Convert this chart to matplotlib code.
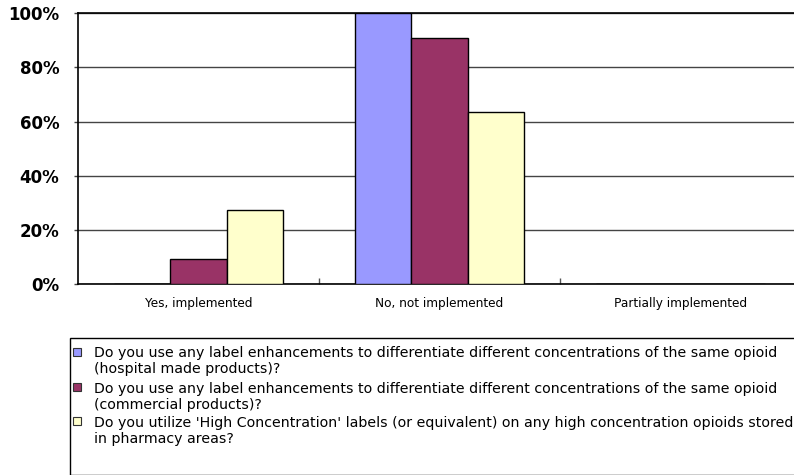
import matplotlib
matplotlib.use("Agg")
import matplotlib.pyplot as plt
from matplotlib.patches import Rectangle
from matplotlib.ticker import FixedLocator, PercentFormatter
import numpy as np

plt.rcParams['font.family'] = ['DejaVu Sans']

categories = ["Yes, implemented", "No, not implemented", "Partially implemented"]
hospital_made = [0.0, 100.0, 0.0]
commercial = [9.09, 90.91, 0.0]
high_conc = [27.27, 63.64, 0.0]

series_labels = [
    ["Do you use any label enhancements to differentiate different concentrations of the same opioid",
     "(hospital made products)?"],
    ["Do you use any label enhancements to differentiate different concentrations of the same opioid",
     "(commercial products)?"],
    ["Do you utilize 'High Concentration' labels (or equivalent) on any high concentration opioids stored",
     "in pharmacy areas?"],
]
colors = ["#9999FF", "#993366", "#FFFFCC"]
y_ticks = [0, 20, 40, 60, 80, 100]

W, H = 794, 475
fig = plt.figure(figsize=(W / 100, H / 100), dpi=100)
ax = fig.add_axes([78 / W, 1 - 284 / H, (801 - 78) / W, (284 - 13.3) / H])

x = np.arange(len(categories))
bw = 0.234
for i, (vals, c) in enumerate(zip([hospital_made, commercial, high_conc], colors)):
    ax.bar(x + (i - 1) * bw, vals, width=bw, color=c, edgecolor="black",
           linewidth=1.0, zorder=3)

ax.set_xlim(-0.5, 2.5)
ax.set_ylim(0, 100)
ax.set_yticks(y_ticks)
ax.yaxis.set_major_formatter(PercentFormatter(decimals=0))
ax.yaxis.grid(True, color="#444444", linewidth=1.0, zorder=0)
ax.set_axisbelow(True)

ax.set_xticks(x)
ax.set_xticklabels(categories, fontsize=8.7)
ax.tick_params(axis="x", which="major", length=0, pad=9)
ax.xaxis.set_minor_locator(FixedLocator([0.5, 1.5]))
ax.tick_params(axis="x", which="minor", direction="in", length=4, width=1, color="#555555")

for lab in ax.get_yticklabels():
    lab.set_fontweight("bold")
    lab.set_fontsize(12)
ax.tick_params(axis="y", length=3, width=1, pad=10.5, color="#444444")

for side in ["left", "bottom", "top"]:
    ax.spines[side].set_color("black")
    ax.spines[side].set_linewidth(1.2)
ax.spines["right"].set_visible(False)

# legend box below the plot area
fig.patches.append(Rectangle((70 / W, 0), 1.0, 1 - 338 / H, transform=fig.transFigure,
                             facecolor="white", edgecolor="black", linewidth=1.0))
row_y = [352, 387, 421]
line_gap = 16
for lines, c, yy in zip(series_labels, colors, row_y):
    fig.patches.append(Rectangle((73 / W, 1 - (yy + 4) / H), 8 / W, 8 / H,
                                 transform=fig.transFigure, facecolor=c,
                                 edgecolor="#333333", linewidth=0.8))
    for k, line in enumerate(lines):
        fig.text(94 / W, 1 - (yy + k * line_gap) / H, line, fontsize=10.2,
                 va="center_baseline", ha="left")

fig.savefig("out.png", dpi=100)
